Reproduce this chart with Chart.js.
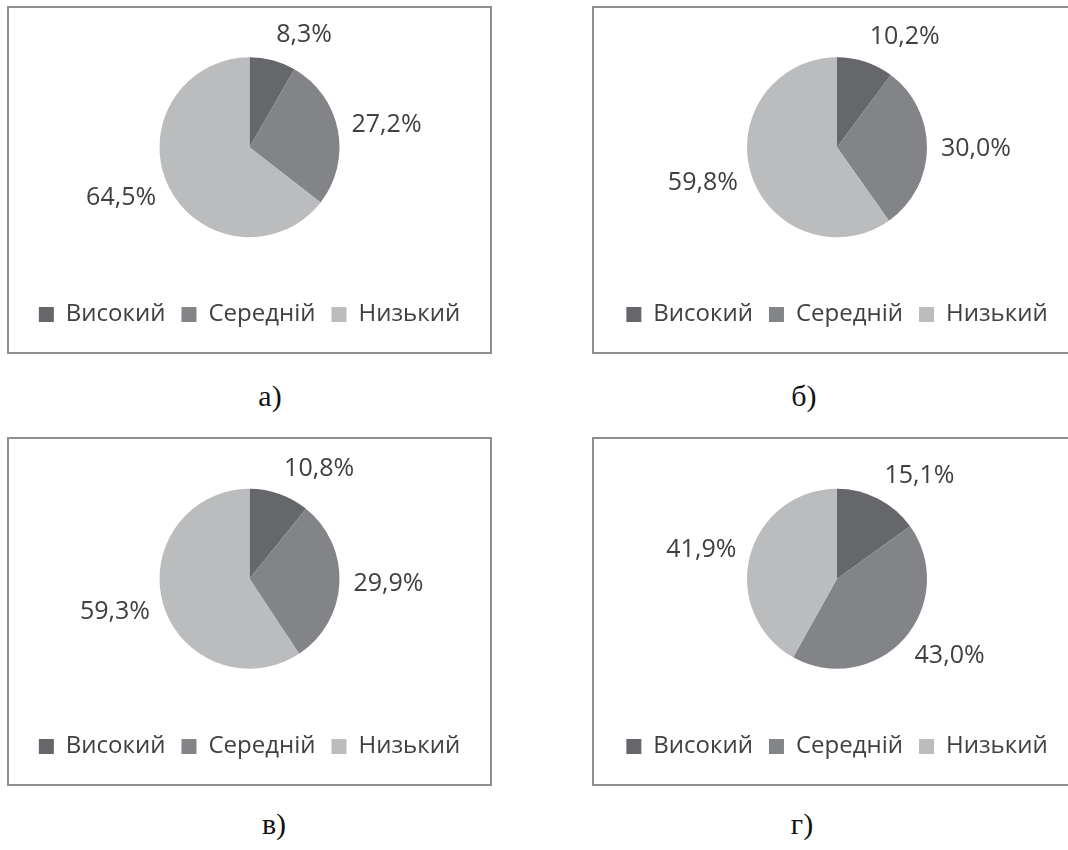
<!DOCTYPE html>
<html>
<head>
<meta charset="utf-8">
<script src="https://cdn.jsdelivr.net/npm/chart.js@4"></script>
<style>
  html, body { margin: 0; padding: 0; background: #fff; overflow: hidden; }
  body { width: 1068px; height: 850px; position: relative; }
  .panel { position: absolute; box-sizing: border-box; border: 2px solid #8e8e8e; background: #fff; }
  .panel .box { position: relative; width: 100%; height: 100%; }
  .cap { position: absolute; width: 100px; text-align: center; font-family: "Liberation Serif", serif; font-size: 30px; color: #111; }
</style>
</head>
<body>
<div class="panel" style="left:7px;top:6px;width:485px;height:348px"><div class="box"><canvas id="pie-a"></canvas></div></div>
<div class="panel" style="left:592px;top:6px;width:490px;height:348px"><div class="box"><canvas id="pie-b"></canvas></div></div>
<div class="panel" style="left:7px;top:437px;width:485px;height:349px"><div class="box"><canvas id="pie-c"></canvas></div></div>
<div class="panel" style="left:592px;top:437px;width:490px;height:349px"><div class="box"><canvas id="pie-d"></canvas></div></div>
<div class="cap" id="cap-a" style="left:220px;top:379px"></div>
<div class="cap" id="cap-b" style="left:754px;top:379px"></div>
<div class="cap" id="cap-c" style="left:224px;top:807px"></div>
<div class="cap" id="cap-d" style="left:752px;top:807px"></div>
<script>
var categories = ["Високий", "Середній", "Низький"];
var valuesA = [8.3, 27.2, 64.5];
var valuesB = [10.2, 30.0, 59.8];
var valuesC = [10.8, 29.9, 59.3];
var valuesD = [15.1, 43.0, 41.9];
var captions = ["а)", "б)", "в)", "г)"];

var sliceColors = ["#66676a", "#838488", "#bbbcbe"];
var textColor = "#404040";
var fontFamily = "Open Sans";

// percentage labels just outside the rim, aligned away from the centre
var outsideLabels = {
  id: "outsideLabels",
  afterDatasetsDraw: function (chart) {
    var ctx = chart.ctx;
    var data = chart.data.datasets[0].data;
    ctx.save();
    ctx.font = "25px " + fontFamily;
    ctx.fillStyle = textColor;
    ctx.textBaseline = "middle";
    chart.getDatasetMeta(0).data.forEach(function (arc, i) {
      var a = (arc.startAngle + arc.endAngle) / 2;
      var d = arc.outerRadius + 14;
      var x = arc.x + d * Math.cos(a);
      var y = arc.y + d * Math.sin(a) + Math.sin(a) * 12;
      ctx.textAlign = Math.cos(a) >= 0 ? "left" : "right";
      ctx.fillText(data[i].toFixed(1).replace(".", ",") + "%", x, y);
    });
    ctx.restore();
  }
};

function makePie(id, values) {
  return new Chart(document.getElementById(id).getContext("2d"), {
    type: "pie",
    data: {
      labels: categories,
      datasets: [{
        data: values,
        backgroundColor: sliceColors,
        borderWidth: 0,
        radius: 90
      }]
    },
    options: {
      responsive: true,
      maintainAspectRatio: false,
      animation: false,
      layout: {
        padding: { top: 0, bottom: 15.5, left: 0, right: 0 }
      },
      plugins: {
        tooltip: { enabled: false },
        legend: {
          position: "bottom",
          labels: {
            boxWidth: 15,
            boxHeight: 15,
            padding: 16,
            color: textColor,
            font: { size: 24, family: fontFamily }
          }
        }
      }
    },
    plugins: [outsideLabels]
  });
}

makePie("pie-a", valuesA);
makePie("pie-b", valuesB);
makePie("pie-c", valuesC);
makePie("pie-d", valuesD);

["cap-a", "cap-b", "cap-c", "cap-d"].forEach(function (id, i) {
  document.getElementById(id).textContent = captions[i];
});
</script>
</body>
</html>
